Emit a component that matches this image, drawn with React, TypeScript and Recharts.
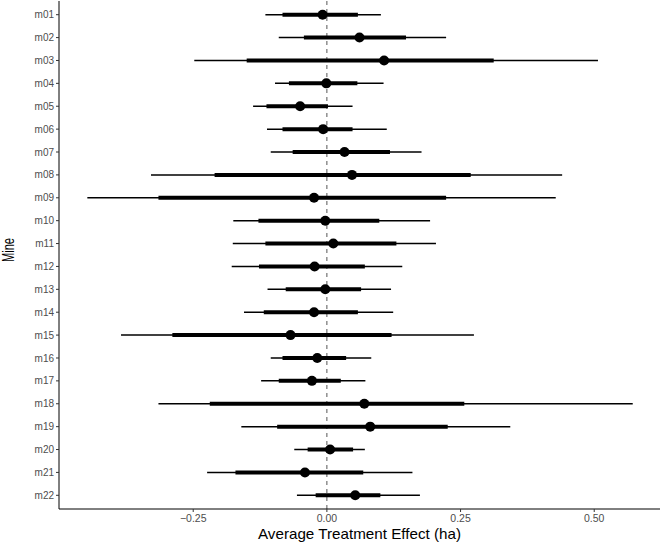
import { CartesianGrid, ComposedChart, ErrorBar, ReferenceLine, Scatter, XAxis, YAxis } from "recharts"

const mines = [
  "m01", "m02", "m03", "m04", "m05", "m06", "m07", "m08", "m09", "m10", "m11",
  "m12", "m13", "m14", "m15", "m16", "m17", "m18", "m19", "m20", "m21", "m22",
]

// point estimate
const estimate = [
  -0.008, 0.061, 0.107, -0.001, -0.05, -0.007, 0.033, 0.047, -0.024, -0.003, 0.012,
  -0.023, -0.003, -0.024, -0.068, -0.018, -0.028, 0.07, 0.081, 0.006, -0.041, 0.053,
]

// inner (thick) interval
const innerLow = [
  -0.083, -0.043, -0.15, -0.071, -0.113, -0.083, -0.064, -0.21, -0.315, -0.128, -0.115,
  -0.127, -0.077, -0.118, -0.289, -0.083, -0.09, -0.219, -0.093, -0.036, -0.171, -0.021,
]
const innerHigh = [
  0.058, 0.148, 0.312, 0.057, 0.002, 0.048, 0.118, 0.269, 0.223, 0.098, 0.13,
  0.071, 0.064, 0.058, 0.121, 0.036, 0.026, 0.257, 0.226, 0.049, 0.068, 0.1,
]

// outer (thin) interval
const outerLow = [
  -0.115, -0.09, -0.248, -0.097, -0.138, -0.112, -0.105, -0.329, -0.448, -0.175, -0.176,
  -0.178, -0.111, -0.155, -0.385, -0.105, -0.123, -0.315, -0.16, -0.061, -0.224, -0.056,
]
const outerHigh = [
  0.101, 0.223, 0.507, 0.106, 0.048, 0.112, 0.177, 0.44, 0.428, 0.193, 0.204,
  0.141, 0.12, 0.124, 0.275, 0.083, 0.072, 0.572, 0.343, 0.071, 0.16, 0.174,
]

const xTicks = [-0.25, 0, 0.25, 0.5]

// ErrorBar wants offsets from the point, not absolute bounds
const data = mines.map((mine, i) => ({
  mine,
  est: estimate[i],
  outer: [estimate[i] - outerLow[i], outerHigh[i] - estimate[i]],
  inner: [estimate[i] - innerLow[i], innerHigh[i] - estimate[i]],
}))

const font = "'Liberation Sans', Arial, Helvetica, sans-serif"

export default function App() {
  return (
    <div style={{ position: "absolute", left: 0, top: 0, width: 662, height: 546, background: "#fff" }}>
      <ComposedChart
        width={662}
        height={546}
        data={data}
        layout="vertical"
        margin={{ top: 1, right: 2, bottom: 0, left: 0 }}
      >
        <CartesianGrid stroke="none" />
        <XAxis
          type="number"
          dataKey="est"
          domain={[-0.501, 0.623]}
          allowDataOverflow
          height={37}
          ticks={xTicks}
          tickFormatter={(v) => (v < 0 ? "\u2212" : "") + Math.abs(v).toFixed(2)}
          tick={{ fontSize: 10.5, fill: "#4d4d4d", fontFamily: font }}
          tickSize={3}
          tickMargin={3}
          stroke="#000"
          tickLine={{ stroke: "#333" }}
          label={({ viewBox }: any) => (
            <text
              x={viewBox.x + viewBox.width / 2}
              y={538.5}
              textAnchor="middle"
              textLength={203}
              lengthAdjust="spacingAndGlyphs"
              style={{ fontSize: 15, fill: "#000", fontFamily: font }}
            >
              Average Treatment Effect (ha)
            </text>
          )}
        />
        <YAxis
          type="category"
          dataKey="mine"
          width={59}
          padding={{ top: 13.7, bottom: 13.7 }}
          tick={{ fontSize: 10, fill: "#4d4d4d", fontFamily: font }}
          tickSize={3}
          tickMargin={2}
          stroke="#000"
          tickLine={{ stroke: "#333" }}
          label={() => (
            <text
              x={13.5}
              y={250}
              transform="rotate(-90, 13.5, 250)"
              textAnchor="middle"
              textLength={24}
              lengthAdjust="spacingAndGlyphs"
              style={{ fontSize: 16, fill: "#000", fontFamily: font }}
            >
              Mine
            </text>
          )}
        />
        <ReferenceLine x={0} stroke="#555" strokeDasharray="4 4" strokeWidth={1} />
        <Scatter
          dataKey="est"
          isAnimationActive={false}
          shape={(p: any) => <circle cx={p.cx} cy={p.cy} r={5} fill="#000" />}
        >
          <ErrorBar dataKey="outer" direction="x" width={0} stroke="#000" strokeWidth={1.5} isAnimationActive={false} />
          <ErrorBar dataKey="inner" direction="x" width={0} stroke="#000" strokeWidth={4} isAnimationActive={false} />
        </Scatter>
      </ComposedChart>
    </div>
  )
}
